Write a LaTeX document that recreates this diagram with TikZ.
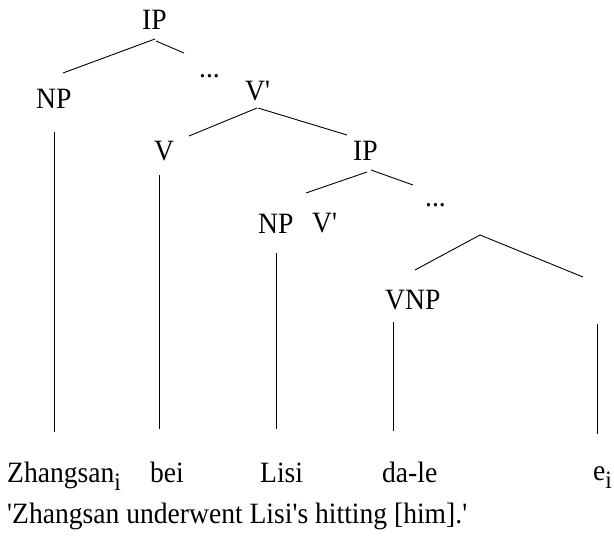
\documentclass[tikz,border=0pt]{standalone}
\usepackage{fontspec}
\newfontfamily\treefont{Liberation Serif}[FakeStretch=0.935]
\begin{document}
\begin{tikzpicture}[x=1pt,y=-1pt,
  lbl/.style={inner sep=0pt,anchor=base west,font=\treefont\fontsize{29.5}{34}\selectfont},
  branch/.style={line width=0.9pt,black}]
\useasboundingbox (0,0) rectangle (614,538);
\newcommand{\sbi}{\raisebox{-8pt}{\fontsize{25}{25}\selectfont i}}

% category labels
\node[lbl] (ip1)   at (142,29)  {IP};
\node[lbl] (np1)   at (36,108)  {NP};
\node[lbl] (dots1) at (199,77)  {...};
\node[lbl] (vb1)   at (245,100) {V'};
\node[lbl] (v1)    at (154,160) {V};
\node[lbl] (ip2)   at (353,160) {IP};
\node[lbl] (np2)   at (258,233) {NP};
\node[lbl] (vb2)   at (312,232) {V'};
\node[lbl] (dots2) at (425,206) {...};
\node[lbl] (vnp)   at (385,309) {VNP};

% terminal words and gloss
\node[lbl] (w1) at (7,482)   {Zhangsan\sbi};
\node[lbl] (w2) at (150,482) {bei};
\node[lbl] (w3) at (260,482) {Lisi};
\node[lbl] (w4) at (382,482) {da-le};
\node[lbl] (w5) at (593,480) {e\sbi};
\node[lbl] (gloss) at (7,523) {'Zhangsan underwent Lisi's hitting [him].'};

% branch end points
\coordinate (ip1-l) at (155,39);   \coordinate (np1-u) at (63,73);
\coordinate (ip1-r) at (156,41);   \coordinate (ip1-re) at (184,53);
\coordinate (vb1-l) at (257,108);  \coordinate (v1-u) at (189,136);
\coordinate (vb1-r) at (258,108);  \coordinate (ip2-u) at (347,135);
\coordinate (ip2-l) at (367,172);  \coordinate (np2-u) at (306,193);
\coordinate (ip2-r) at (371,170);  \coordinate (ip2-re) at (413,185);
\coordinate (apex) at (480,235);
\coordinate (vnp-u) at (415,270);  \coordinate (ei-u) at (583,277);

% stems down to the words
\coordinate (np1-s) at (54.5,132); \coordinate (w1-t) at (54.5,432);
\coordinate (v1-s)  at (159.5,175);\coordinate (w2-t) at (159.5,429);
\coordinate (np2-s) at (276.5,253);\coordinate (w3-t) at (276.5,429);
\coordinate (vnp-s) at (393,322);  \coordinate (w4-t) at (393,431);
\coordinate (ei-s)  at (597,324);  \coordinate (w5-t) at (597,434);

\draw[branch] (ip1-l) -- (np1-u);
\draw[branch] (ip1-r) -- (ip1-re);
\draw[branch] (vb1-l) -- (v1-u);
\draw[branch] (vb1-r) -- (ip2-u);
\draw[branch] (ip2-l) -- (np2-u);
\draw[branch] (ip2-r) -- (ip2-re);
\draw[branch] (vnp-u) -- (apex) -- (ei-u);

\draw[branch] (np1-s) -- (w1-t);
\draw[branch] (v1-s) -- (w2-t);
\draw[branch] (np2-s) -- (w3-t);
\draw[branch] (vnp-s) -- (w4-t);
\draw[branch] (ei-s) -- (w5-t);
\end{tikzpicture}
\end{document}
